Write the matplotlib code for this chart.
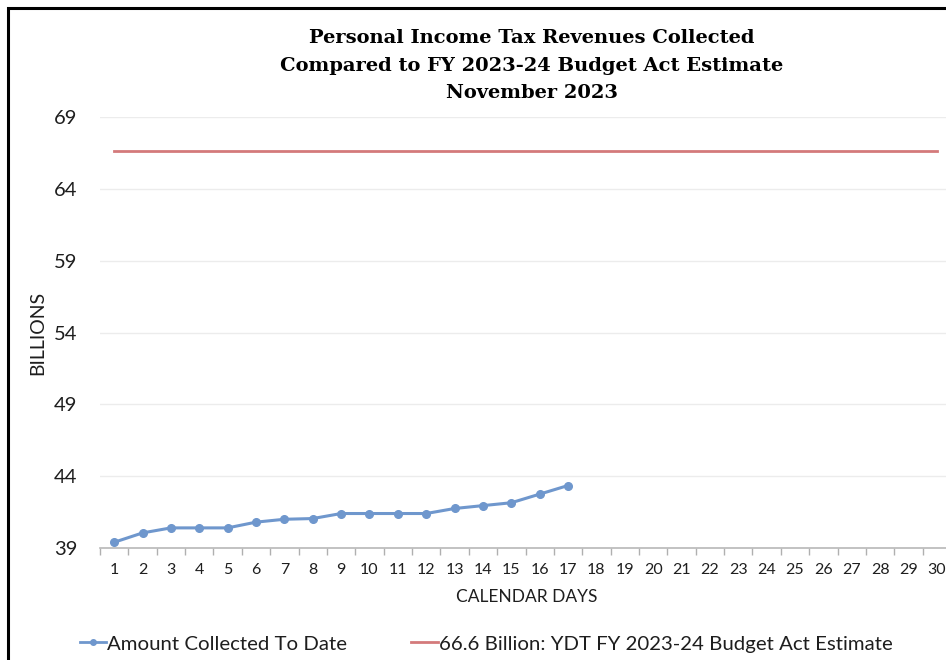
import matplotlib
matplotlib.use("Agg")
import matplotlib.pyplot as plt
from matplotlib.lines import Line2D
from matplotlib.patches import Rectangle

# Data (billions of dollars)
days = list(range(1, 31))
collected_days = list(range(1, 18))
collected = [39.4, 40.05, 40.4, 40.4, 40.4, 40.8, 41.0, 41.05, 41.4, 41.4,
             41.4, 41.4, 41.75, 41.95, 42.15, 42.75, 43.35]
budget_estimate = 66.6
y_ticks = [39, 44, 49, 54, 59, 64, 69]

title_lines = ["Personal Income Tax Revenues Collected",
               "Compared to FY 2023-24 Budget Act Estimate",
               "November 2023"]
label_collected = "Amount Collected To Date"
label_budget = "66.6 Billion: YDT FY 2023-24 Budget Act Estimate"

blue = "#6f97cd"
red = "#d47a7b"
sans = ["Lato", "DejaVu Sans"]
ink = "#1e1e1e"

fig = plt.figure(figsize=(9.46, 6.6), dpi=100)
fig.patch.set_facecolor("white")

# Outer frame (left and top edges visible)
W, H = 946, 660
fig.add_artist(Rectangle((8 / W, -0.1), 1.2, 1 - 8 / H + 0.1,
                         transform=fig.transFigure, fill=False,
                         edgecolor="black", linewidth=2.2))

ax = fig.add_axes([100 / W, 1 - 548 / H, (951 - 100) / W, (548 - 117) / H])

ax.plot(collected_days, collected, color=blue, linewidth=2.2,
        marker="o", markersize=5.5, markerfacecolor=blue, markeredgecolor=blue)
ax.plot(days, [budget_estimate] * len(days), color=red, linewidth=2.0)

ax.set_xlim(0.5, 30.5)
ax.set_ylim(39, 69)
ax.set_yticks(y_ticks)
ax.set_yticklabels([str(v) for v in y_ticks], fontsize=14.5, family=sans,
                   color=ink)
ax.set_xticks(days)
ax.set_xticklabels([str(d) for d in days], fontsize=11.5, family=sans,
                   color=ink)
ax.set_xticks([d + 0.5 for d in range(0, 31)], minor=True)

ax.tick_params(axis="y", length=0, pad=16.5)
ax.tick_params(axis="x", which="major", length=0, pad=11)
ax.tick_params(axis="x", which="minor", length=5, color="#b0b0b0", width=1)

ax.grid(axis="y", color="#ececec", linewidth=1)
ax.set_axisbelow(True)
for side in ("top", "right", "left"):
    ax.spines[side].set_visible(False)
ax.spines["bottom"].set_color("#b8b8b8")
ax.spines["bottom"].set_linewidth(1.2)

ax.set_xlabel("CALENDAR DAYS", fontsize=12.5, family=sans, color=ink)
ax.xaxis.set_label_coords((527 - 100) / (951 - 100), -(589 - 548) / (548 - 117))
ax.set_ylabel("BILLIONS", fontsize=14, family=sans, color=ink)
ax.yaxis.set_label_coords(-(100 - 46) / (951 - 100), 0.5)

for line, ypix in zip(title_lines, [38, 66, 93]):
    fig.text(532 / W, 1 - ypix / H, line, ha="center", va="center",
             fontsize=14, fontweight="bold", family="DejaVu Serif",
             color="black")

handles = [
    Line2D([0], [0], color=blue, linewidth=2, marker="o", markersize=4),
    Line2D([0], [0], color=red, linewidth=2),
]
fig.legend(handles, [label_collected, label_budget], loc="center left",
           bbox_to_anchor=(80 / W, 1 - 644 / H), ncol=2, frameon=False,
           prop={"family": sans, "size": 14.7}, handlelength=1.28,
           handletextpad=0.05, columnspacing=3.15, labelcolor=ink,
           borderpad=0, borderaxespad=0)

fig.savefig("out.png", dpi=100, facecolor="white")
